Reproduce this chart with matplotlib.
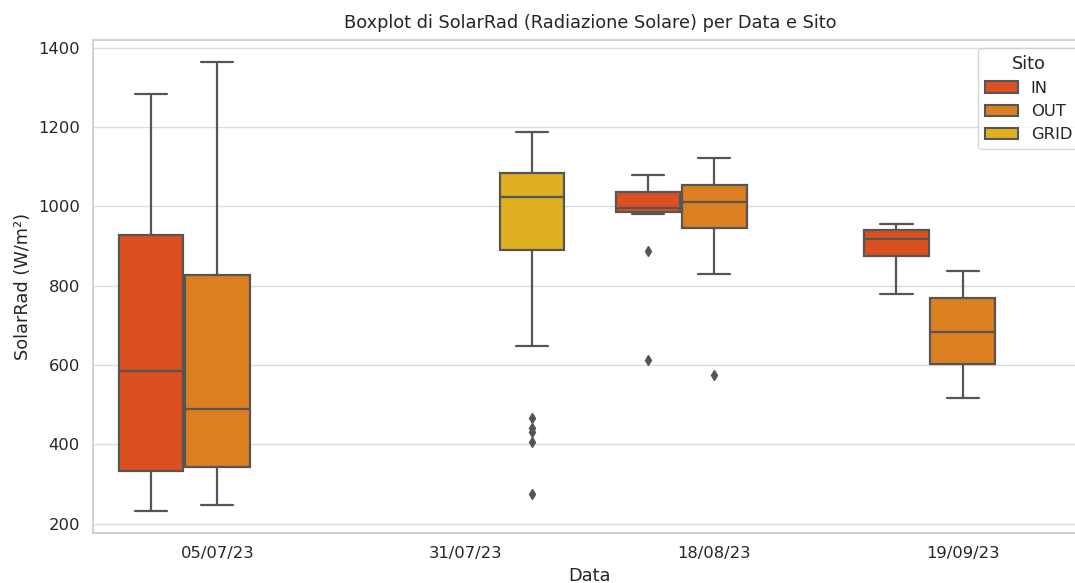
import numpy as np
import matplotlib
matplotlib.use("Agg")
import matplotlib.pyplot as plt
import matplotlib.patches as mpatches
import seaborn as sns

# date e siti
date = ["05/07/23", "31/07/23", "18/08/23", "19/09/23"]
siti = ["IN", "OUT", "GRID"]
colori = ["#dc5020", "#dc7f20", "#deb021"]

# statistiche: (data, sito, whislo, q1, med, q3, whishi, outlier)
box_data = ["05/07/23", "05/07/23", "31/07/23", "18/08/23", "18/08/23", "19/09/23", "19/09/23"]
box_sito = ["IN", "OUT", "GRID", "IN", "OUT", "IN", "OUT"]
whislo = [233, 248, 647, 982, 829, 780, 517]
q1 = [334, 344, 890, 987, 946, 874, 603]
med = [586, 489, 1024, 995, 1011, 917, 684]
q3 = [928, 827, 1084, 1037, 1053, 941, 770]
whishi = [1283, 1363, 1187, 1079, 1121, 955, 837]
outlier = [[], [], [467, 440, 431, 406, 275], [888, 612], [576], [], []]

sns.set_theme(style="whitegrid")

fig = plt.figure(figsize=(10.75, 5.83), dpi=100)
ax = fig.add_axes([93 / 1075, 50 / 583, 994 / 1075, 493 / 583])

grigio = "#555555"
step = 0.8 / len(siti)
larg = step * 0.98

for i in range(len(box_data)):
    xi = date.index(box_data[i])
    hi = siti.index(box_sito[i])
    pos = xi - 0.4 + step / 2 + hi * step
    stats = [dict(whislo=whislo[i], q1=q1[i], med=med[i], q3=q3[i],
                  whishi=whishi[i], fliers=outlier[i])]
    ax.bxp(stats, positions=[pos], widths=larg, patch_artist=True,
           showfliers=True, manage_ticks=False,
           boxprops=dict(facecolor=colori[hi], edgecolor=grigio, linewidth=1.6),
           medianprops=dict(color=grigio, linewidth=1.6),
           whiskerprops=dict(color=grigio, linewidth=1.6),
           capprops=dict(color=grigio, linewidth=1.6),
           flierprops=dict(marker="d", markerfacecolor=grigio, markeredgecolor=grigio,
                           markersize=5.5))

ax.set_xticks(range(len(date)))
ax.set_xticklabels(date, fontsize=11.8)
ax.set_xlim(-0.5, len(date) - 0.5)
ax.set_ylim(176.5, 1419.5)
ax.set_yticks([200, 400, 600, 800, 1000, 1200, 1400])
ax.tick_params(axis="y", labelsize=11.8)
ax.xaxis.grid(False)
ax.yaxis.grid(True, color="#dcdcdc")
for s in ax.spines.values():
    s.set_color("#cccccc")

ax.set_xlabel("Data", fontsize=12.8)
ax.set_ylabel("SolarRad (W/m²)", fontsize=12.8)
ax.set_title("Boxplot di SolarRad (Radiazione Solare) per Data e Sito", fontsize=12.8, pad=9)

handles = [mpatches.Patch(facecolor=colori[k], edgecolor=grigio, linewidth=1.5, label=siti[k])
           for k in range(len(siti))]
ax.legend(handles=handles, title="Sito", loc="upper right", fontsize=11.8, title_fontsize=12.8)

fig.savefig("out.png", dpi=100)
